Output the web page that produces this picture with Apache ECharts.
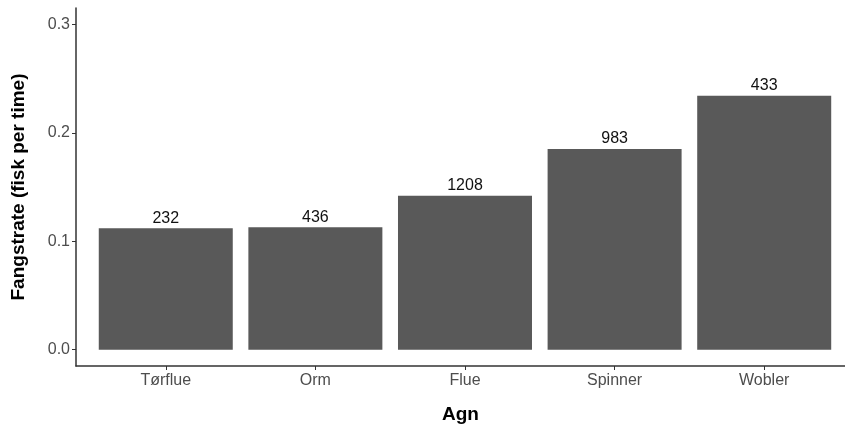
<!DOCTYPE html>
<html>
<head>
<meta charset="utf-8">
<script src="https://cdn.jsdelivr.net/npm/echarts@6/dist/echarts.min.js"></script>
<style>html,body{margin:0;padding:0;background:#fff}#c{width:845px;height:429px}</style>
</head>
<body>
<div id="c"></div>
<script>
const categories = ['Tørflue', 'Orm', 'Flue', 'Spinner', 'Wobler'];
const rates = [0.112, 0.113, 0.142, 0.185, 0.234];
const counts = [232, 436, 1208, 983, 433];
const yTicks = [0, 0.1, 0.2, 0.3];
const xTicks = [1, 2, 3, 4, 5];

const chart = echarts.init(document.getElementById('c'));
chart.setOption({
  animation: false,
  grid: { left: 76, right: 0, top: 8, bottom: 63, outerBoundsMode: 'none', containLabel: false },
  xAxis: {
    type: 'value', min: 0.4, max: 5.54,
    name: 'Agn', nameLocation: 'middle', nameGap: 39,
    nameTextStyle: { fontFamily: 'Liberation Sans', fontWeight: 'bold', fontSize: 19, color: '#000' },
    axisLine: { show: true, onZero: false, lineStyle: { color: '#333', width: 1.5 } },
    axisTick: { show: true, length: 4, customValues: xTicks, lineStyle: { color: '#333' } },
    axisLabel: { customValues: xTicks, formatter: v => categories[Math.round(v) - 1], fontFamily: 'Liberation Sans', fontSize: 16, color: '#4d4d4d', margin: 7 },
    splitLine: { show: false }
  },
  yAxis: {
    type: 'value', min: -0.015, max: 0.315,
    name: 'Fangstrate (fisk per time)', nameLocation: 'middle', nameGap: 48, nameRotate: 90,
    nameTextStyle: { fontFamily: 'Liberation Sans', fontWeight: 'bold', fontSize: 19, color: '#000' },
    axisLine: { show: true, onZero: false, lineStyle: { color: '#333', width: 1.5 } },
    axisTick: { show: true, length: 4, customValues: yTicks, lineStyle: { color: '#333' } },
    axisLabel: { customValues: yTicks, formatter: v => v.toFixed(1), fontFamily: 'Liberation Sans', fontSize: 16, color: '#4d4d4d', margin: 6 },
    splitLine: { show: false }
  },
  series: [{
    type: 'bar',
    barWidth: 134,
    data: rates.map((v, i) => [xTicks[i], v]),
    itemStyle: { color: '#595959' },
    label: {
      show: true, position: 'top', distance: 2,
      formatter: p => String(counts[p.dataIndex]),
      fontFamily: 'Liberation Sans', fontSize: 16, color: '#111'
    }
  }]
});
</script>
</body>
</html>
